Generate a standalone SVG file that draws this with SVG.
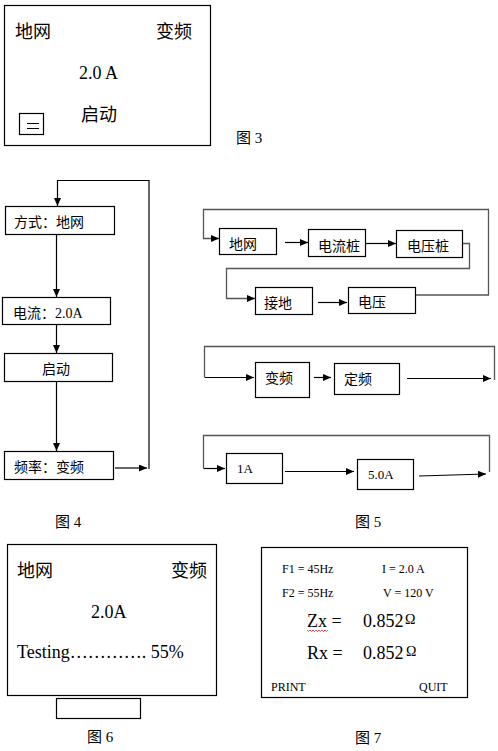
<svg xmlns="http://www.w3.org/2000/svg" width="498" height="751" viewBox="0 0 498 751">
<defs>
<style>
text{font-family:"Liberation Serif","Noto Sans CJK SC",serif;fill:#000}
.b{fill:#fff;stroke:#000;stroke-width:1.2}
.c{fill:none;stroke:#000;stroke-width:1.2}
.g{fill:none;stroke:#555;stroke-width:1.3}
.l{font-size:18px}
.m{font-size:14px}
.s{font-size:12px}
.cap{font-size:15px}
</style>
<marker id="ah" markerWidth="8" markerHeight="7" refX="8" refY="3.5" orient="auto" markerUnits="userSpaceOnUse">
<path d="M0,0 L8,3.5 L0,7 z" fill="#000"/>
</marker>
</defs>
<rect width="498" height="751" fill="#fff"/>

<g id="fig3">
<rect class="b" x="4.5" y="5.5" width="206" height="140"/>
<text class="l" x="15" y="38">地网</text>
<text class="l" x="156" y="38">变频</text>
<text class="l" x="79" y="79">2.0 A</text>
<text class="l" x="81" y="121">启动</text>
<rect class="b" x="19.5" y="113.5" width="24" height="21"/>
<path class="c" d="M27,123.5 H39 M27,128.5 H39"/>
<text class="cap" x="236" y="143">图 3</text>
</g>

<g id="fig4-mode"><rect class="b" x="5.5" y="206.5" width="109" height="28"/><text class="m" x="14" y="227">方式：地网</text></g>
<g id="fig4-current"><rect class="b" x="2.5" y="297.5" width="108" height="27"/><text class="m" x="13" y="318">电流：2.0A</text></g>
<g id="fig4-start"><rect class="b" x="4.5" y="353.5" width="108" height="28"/><text class="m" x="56" y="374" text-anchor="middle">启动</text></g>
<g id="fig4-freq"><rect class="b" x="4.5" y="451.5" width="109" height="28"/><text class="m" x="14" y="472">频率：变频</text></g>
<text id="cap4" class="cap" x="55" y="527">图 4</text>

<g id="fig5-dw"><rect class="b" x="219.5" y="228.5" width="57" height="26"/><text class="m" x="229" y="249">地网</text></g>
<g id="fig5-dlz"><rect class="b" x="308.5" y="229.5" width="57" height="27"/><text class="m" x="318" y="251">电流桩</text></g>
<g id="fig5-dyz"><rect class="b" x="396.5" y="230.5" width="66" height="27"/><text class="m" x="407" y="251">电压桩</text></g>
<g id="fig5-jd"><rect class="b" x="255.5" y="287.5" width="57" height="27"/><text class="m" x="264" y="308">接地</text></g>
<g id="fig5-dy"><rect class="b" x="348.5" y="287.5" width="67" height="26"/><text class="m" x="358" y="307">电压</text></g>
<g id="fig5-bp"><rect class="b" x="255.5" y="362.5" width="54" height="35"/><text class="m" x="265" y="383">变频</text></g>
<g id="fig5-dp"><rect class="b" x="334.5" y="363.5" width="65" height="31"/><text class="m" x="344" y="384">定频</text></g>
<g id="fig5-1a"><rect class="b" x="226.5" y="453.5" width="56" height="30"/><text class="s" x="237" y="473" style="font-size:13px">1A</text></g>
<g id="fig5-5a"><rect class="b" x="357.5" y="459.5" width="56" height="30"/><text class="s" x="368" y="479" style="font-size:13px">5.0A</text></g>
<text id="cap5" class="cap" x="355" y="527">图 5</text>

<g id="connectors">
<path class="c" d="M149,469 V180.5 H57.5 V206" marker-end="url(#ah)"/>
<path class="c" d="M115,468 H147" marker-end="url(#ah)"/>
<path class="c" d="M56.5,234 V297" marker-end="url(#ah)"/>
<path class="c" d="M56.5,324 V353" marker-end="url(#ah)"/>
<path class="c" d="M56.5,382 V451" marker-end="url(#ah)"/>

<path class="g" d="M416,295 H488.5 V209.5 H203.5 V238.5 H219" marker-end="url(#ah)"/>
<path class="c" d="M285,242.5 H308" marker-end="url(#ah)"/>
<path class="c" d="M366,243.5 H396" marker-end="url(#ah)"/>
<path class="g" d="M463,243.5 H469.5 V268.5 H226.5 V298.5 H255" marker-end="url(#ah)"/>
<path class="c" d="M318,302.5 H347" marker-end="url(#ah)"/>

<path class="g" d="M494.5,380 V346.5 H204.5 V377"/>
<path class="c" d="M204.5,377.5 H254" marker-end="url(#ah)"/>
<path class="c" d="M314,377.5 H331" marker-end="url(#ah)"/>
<path class="c" d="M407,378.5 H491" marker-end="url(#ah)"/>

<path class="g" d="M489.5,472 V435.5 H203.5 V468"/>
<path class="c" d="M203.5,468.5 H225" marker-end="url(#ah)"/>
<path class="c" d="M285,471.5 H354" marker-end="url(#ah)"/>
<path class="c" d="M419,476 L486,474" marker-end="url(#ah)"/>
</g>

<g id="fig6">
<rect class="b" x="7.5" y="544.5" width="209" height="151"/>
<text class="l" x="17" y="577">地网</text>
<text class="l" x="171" y="577">变频</text>
<text class="l" x="91" y="618">2.0A</text>
<text class="l" x="17" y="658">Testing…………. 55%</text>
<rect class="b" x="56.5" y="698.5" width="84" height="20"/>
<text class="cap" x="87" y="742">图 6</text>
</g>

<g id="fig7">
<rect class="b" x="261.5" y="547.5" width="206" height="150"/>
<text class="s" x="282" y="573">F1 = 45Hz</text>
<text class="s" x="382" y="573">I = 2.0 A</text>
<text class="s" x="282" y="597">F2 = 55Hz</text>
<text class="s" x="383" y="597">V = 120 V</text>
<text class="l" x="307" y="627">Zx =</text>
<text class="l" x="363" y="627">0.852</text>
<text class="m" x="405" y="624">Ω</text>
<path d="M307,630 l1.5,1.5 l1.5,-1.5 l1.5,1.5 l1.5,-1.5 l1.5,1.5 l1.5,-1.5 l1.5,1.5 l1.5,-1.5 l1.5,1.5 l1.5,-1.5 l1.5,1.5 l1.5,-1.5 l1.5,1.5 l1.5,-1.5" fill="none" stroke="#e02020" stroke-width="0.8"/>
<text class="l" x="307" y="659">Rx =</text>
<text class="l" x="363" y="659">0.852</text>
<text class="m" x="406" y="656">Ω</text>
<text class="s" x="271" y="691">PRINT</text>
<text class="s" x="419" y="691">QUIT</text>
<text class="cap" x="355" y="743">图 7</text>
</g>
</svg>
